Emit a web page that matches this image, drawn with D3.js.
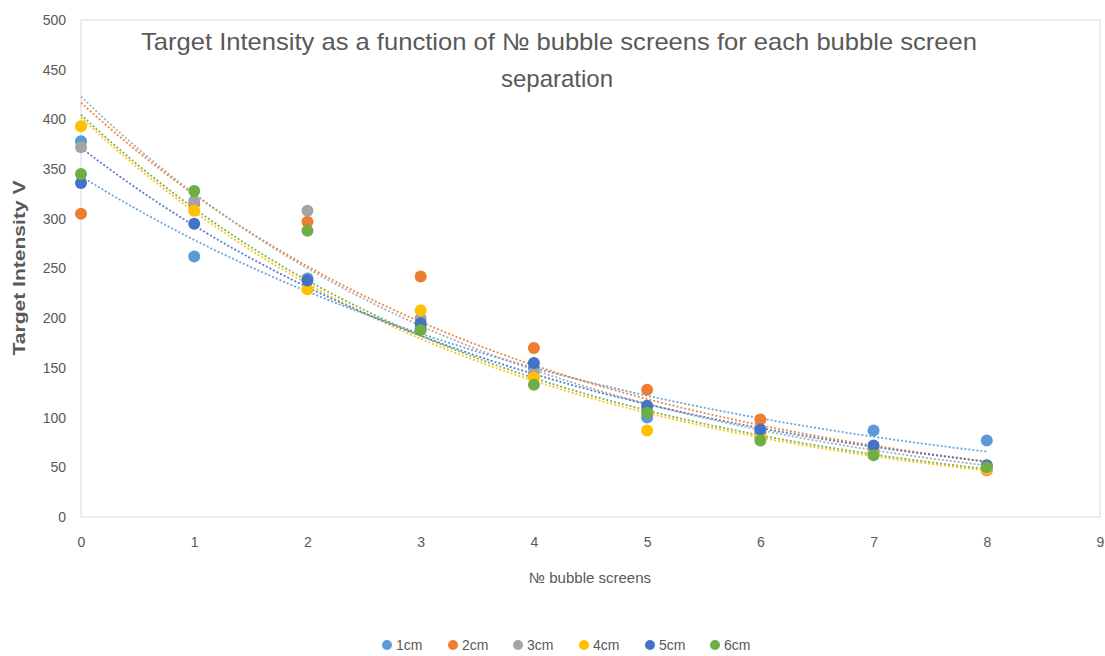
<!DOCTYPE html>
<html><head><meta charset="utf-8">
<script src="https://cdn.jsdelivr.net/npm/d3@7"></script>
<style>body{margin:0;background:#fff}svg{display:block}text{font-family:"Liberation Sans","Noto Sans",sans-serif;fill:#595959}</style>
</head><body><svg id="c" width="1105" height="656"></svg>
<script>
const xs = [0,1,2,3,4,5,6,7,8];
const seriesNames = ["1cm","2cm","3cm","4cm","5cm","6cm"];
const colors = ["#5B9BD5","#ED7D31","#A5A5A5","#FFC000","#4472C4","#70AD47"];
const s1cm = [378,262,240,190,150,100,85,87,77];
const s2cm = [305,315,297,242,170,128,98,65,47];
const s3cm = [372,318,308,200,145,108,85,70,50];
const s4cm = [393,308,229,208,140,87,80,63,48];
const s5cm = [336,295,238,195,155,112,88,72,52];
const s6cm = [345,328,288,188,133,105,77,62,50];
const allSeries = [s1cm,s2cm,s3cm,s4cm,s5cm,s6cm];
const yTicks = [0,50,100,150,200,250,300,350,400,450,500];
const xTicks = [0,1,2,3,4,5,6,7,8,9];

const svg = d3.select("#c");
const x = d3.scaleLinear().domain([0,9]).range([81,1100]);
const y = d3.scaleLinear().domain([0,500]).range([517,20]);

// plot frame
svg.append("rect").attr("x",x(0)).attr("y",y(500)).attr("width",x(9)-x(0)).attr("height",y(0)-y(500))
  .attr("fill","none").attr("stroke","#d9d9d9").attr("stroke-width",1);

// axes
const yAx = svg.append("g").attr("transform",`translate(${x(0)},0)`)
  .call(d3.axisLeft(y).tickValues(yTicks).tickSize(0).tickPadding(15));
yAx.select(".domain").remove();
yAx.selectAll("text").style("font-size","14px").attr("fill","#595959");
const xAx = svg.append("g").attr("transform",`translate(0,${y(0)})`)
  .call(d3.axisBottom(x).tickValues(xTicks).tickSize(0).tickPadding(20));
xAx.select(".domain").remove();
xAx.selectAll("text").style("font-size","14px").attr("fill","#595959");

// exponential trendlines (least squares on ln y)
function expFit(vals){
  const ly = vals.map(v=>Math.log(v));
  const mx = d3.mean(xs), my = d3.mean(ly);
  let sxy=0,sxx=0;
  xs.forEach((xv,i)=>{sxy+=(xv-mx)*(ly[i]-my);sxx+=(xv-mx)*(xv-mx);});
  const b = sxy/sxx, a = Math.exp(my-b*mx);
  return t=>a*Math.exp(b*t);
}
const line = d3.line().x(d=>x(d[0])).y(d=>y(d[1]));
allSeries.forEach((vals,i)=>{
  const f = expFit(vals);
  const pts = d3.range(0,8.001,0.1).map(t=>[t,f(t)]);
  svg.append("path").attr("d",line(pts)).attr("fill","none")
    .attr("stroke",colors[i]).attr("stroke-width",1.8).attr("stroke-dasharray","2,2").attr("opacity",0.9);
});

// points
allSeries.forEach((vals,i)=>{
  svg.append("g").selectAll("circle").data(vals).join("circle")
    .attr("cx",(d,j)=>x(xs[j])).attr("cy",d=>y(d)).attr("r",6).attr("fill",colors[i]);
});

// title
svg.append("text").attr("x",559).attr("y",50).attr("text-anchor","middle").style("font-size","24px")
  .attr("textLength",836).attr("lengthAdjust","spacingAndGlyphs")
  .text("Target Intensity as a function of № bubble screens for each bubble screen");
svg.append("text").attr("x",557).attr("y",87).attr("text-anchor","middle").style("font-size","24px")
  .text("separation");

// axis titles
svg.append("text").attr("transform","translate(25,268) rotate(-90)").attr("text-anchor","middle")
  .style("font-size","16px").style("font-weight","bold").attr("textLength",175).attr("lengthAdjust","spacingAndGlyphs")
  .text("Target Intensity V");
svg.append("text").attr("x",590).attr("y",583).attr("text-anchor","middle").style("font-size","15px")
  .text("№ bubble screens");

// legend
const lg = svg.append("g");
const legX = [387,453,518,584,650,715];
seriesNames.forEach((n,i)=>{
  lg.append("circle").attr("cx",legX[i]).attr("cy",645).attr("r",5).attr("fill",colors[i]);
  lg.append("text").attr("x",legX[i]+9).attr("y",650).style("font-size","14px").text(n);
});
</script></body></html>
